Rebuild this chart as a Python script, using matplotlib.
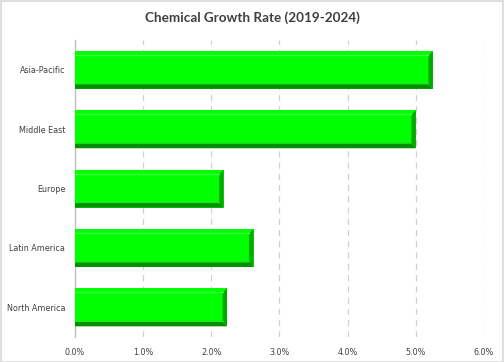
import matplotlib
matplotlib.use("Agg")
import matplotlib.pyplot as plt
from matplotlib.patches import Polygon, Rectangle

categories = ['North America', 'Latin America', 'Europe', 'Middle East', 'Asia-Pacific']
values = [2.23, 2.62, 2.18, 5.0, 5.25]
x_ticks = [0, 1, 2, 3, 4, 5, 6]
x_tick_labels = ['0.0%', '1.0%', '2.0%', '3.0%', '4.0%', '5.0%', '6.0%']

fig = plt.figure(figsize=(5.04, 3.62), dpi=100)
fig.patch.set_facecolor('white')
fig.patches.append(Rectangle((0.001, 0.001), 0.997, 0.996, transform=fig.transFigure,
                             fill=False, edgecolor='#d9d9d9', linewidth=1.2))
ax = fig.add_axes([0.1488, 0.069, 0.8115, 0.820])

h = 0.64
dx = 0.065
dy = 0.075
ys = list(range(len(categories)))
ax.barh(ys, values, height=h, color='#00FF00', edgecolor='none', zorder=3)
for y, v in zip(ys, values):
    bot = y - h / 2
    top = y + h / 2
    ax.add_patch(Polygon([(0, bot), (v, bot), (v - dx, bot + dy), (0, bot + dy)],
                         closed=True, facecolor='#008f00', edgecolor='none', zorder=4))
    ax.add_patch(Polygon([(v, bot), (v, top), (v - dx, top - dy), (v - dx, bot + dy)],
                         closed=True, facecolor='#00a800', edgecolor='none', zorder=4))
    ax.plot([0.02, v - dx], [top - dy * 0.9, top - dy * 0.9], color='#40ff40', lw=1.0, zorder=5)
    ax.plot([0.02, v - dx], [bot + dy * 1.3, bot + dy * 1.3], color='#20e020', lw=0.8, zorder=5)

ax.set_xlim(0, 6)
ax.set_ylim(-0.5, 4.5)
ax.set_xticks(x_ticks)
ax.set_xticklabels(x_tick_labels)
ax.set_yticks(ys)
ax.set_yticklabels(categories)
ax.tick_params(axis='both', length=0, labelsize=5.8, colors='#404040')
ax.tick_params(axis='x', pad=8)
ax.tick_params(axis='y', pad=7)
for s in ['top', 'right', 'bottom']:
    ax.spines[s].set_visible(False)
ax.spines['left'].set_color('#bfbfbf')
ax.spines['left'].set_linewidth(1.0)
for t in x_ticks[1:]:
    ax.axvline(t, color='#d0d0d0', linestyle=(0, (5, 4)), linewidth=0.9, zorder=1)

fig.text(0.5, 0.95, 'Chemical Growth Rate (2019-2024)', ha='center', va='center',
         fontsize=9.7, fontweight='bold', color='#404040', family='Lato')

fig.savefig('out.png', dpi=100)
